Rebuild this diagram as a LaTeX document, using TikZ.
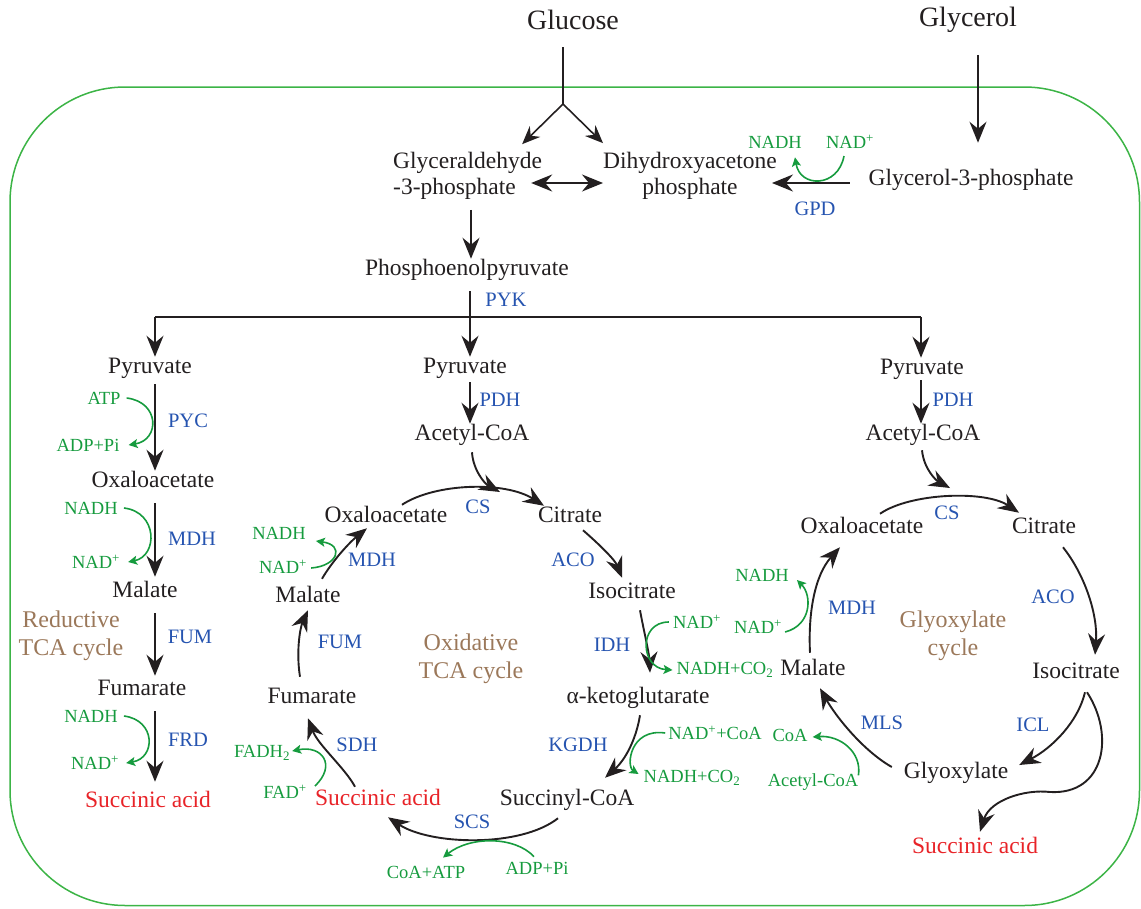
\documentclass[tikz,border=0pt]{standalone}
\usepackage{fontspec}
\setmainfont{Liberation Serif}
\usetikzlibrary{arrows.meta}
\definecolor{ink}{RGB}{35,31,32}
\definecolor{enz}{RGB}{38,84,176}
\definecolor{cof}{RGB}{22,155,62}
\definecolor{prod}{RGB}{232,35,40}
\definecolor{cyc}{RGB}{155,120,90}
\definecolor{cellc}{RGB}{60,180,70}
\begin{document}
\begin{tikzpicture}[x=1pt,y=-1pt,
 metab/.style={font=\fontsize{23.5}{26}\selectfont, text=ink, inner sep=0pt, outer sep=1pt, text height=15.5pt, text depth=5pt},
 metabtwo/.style={font=\fontsize{23.5}{26}\selectfont, text=ink, inner sep=0pt, align=center},
 toplab/.style={font=\fontsize{28}{30}\selectfont, text=ink, inner sep=0pt},
 prodlab/.style={metab, text=prod},
 enzlab/.style={font=\fontsize{20.5}{24}\selectfont, text=enz, inner sep=0pt},
 coflab/.style={font=\fontsize{18.5}{21}\selectfont, text=cof, inner sep=0pt},
 cyclab/.style={font=\fontsize{24}{28}\selectfont, text=cyc, inner sep=0pt, align=center},
 arr/.style={draw=ink, line width=1.9pt, -{Stealth[length=21pt,width=17pt,inset=7pt]}},
 arrsm/.style={draw=ink, line width=1.6pt, -{Stealth[length=18pt,width=15pt,inset=6pt]}},
 darr/.style={draw=ink, line width=1.9pt, {Stealth[length=21pt,width=17pt,inset=7pt]}-{Stealth[length=21pt,width=17pt,inset=7pt]}},
 garr/.style={draw=cof, line width=1.6pt, -{Stealth[length=9pt,width=9pt,inset=2pt]}},
 blackline/.style={draw=ink, line width=1.8pt},
]
\useasboundingbox (0,0) rectangle (1141,908);
% cell border
\draw[cellc, line width=1.5pt, rounded corners=115pt] (10,87) rectangle (1139.5,905.5);

% ---------- top ----------
\node[toplab] (glc) at (573,20) {Glucose};
\node[toplab] (gly) at (968,20) {Glycerol};
\coordinate (gj) at (563,104);
\coordinate (xG) at (978,0);
\coordinate (xA) at (471,0);
\node[metabtwo, align=left, anchor=west] (g3p) at (393,176) {Glyceraldehyde\\-3-phosphate};
\node[metabtwo] (dhap) at (690,176) {Dihydroxyacetone\\phosphate};
\node[metab] (g3pp) at (971,180) {Glycerol-3-phosphate};
\node[enzlab] (gpd) at (815,209) {GPD};
\node[coflab] (nadhG) at (775,142) {NADH};
\node[coflab] (nadG) at (850,142) {NAD\textsuperscript{+}};
\node[metab] (pep) at (467,270) {Phosphoenolpyruvate};
\node[enzlab] (pyk) at (506,300) {PYK};
\coordinate (barL) at (155,317);
\coordinate (barM) at (470,317);
\coordinate (barR) at (921,317);

\draw[blackline, line width=1.3pt, shorten <=17pt] (glc.south -| gj) -- (gj);
\draw[arrsm] (gj) -- ([shift={(-20,-8)}]g3p.north east);
\draw[arrsm] (gj) -- ([shift={(0,-9)}]dhap.north west);
\draw[darr] ([shift={(-11,7)}]g3p.east) -- ([shift={(0,7)}]dhap.west);
\draw[arr, shorten <=22pt] (gly.south -| xG) -- ([shift={(7,-26)}]g3pp.north);
\draw[arr] ([shift={(-18,3)}]g3pp.west) -- ([shift={(-5,7)}]dhap.east);
\draw[garr] ([shift={(-6,7)}]nadG.south) .. controls (838,188) and (800,188) .. ([shift={(20,9)}]nadhG.south);
\draw[arr, shorten <=10pt] (g3p.south -| xA) -- (pep.north -| xA);
\draw[blackline, shorten <=10pt] (pep.south -| barM) -- (barM);
\draw[blackline] (barL) -- (barR);

% ---------- left: reductive ----------
\node[metab] (pyrL) at (150,368) {Pyruvate};
\node[enzlab] (pycL) at (188,421) {PYC};
\node[coflab] (atpL) at (104,398) {ATP};
\node[coflab] (adpL) at (88,445) {ADP+Pi};
\node[metab] (oaaL) at (153,482) {Oxaloacetate};
\node[enzlab] (mdhL) at (192,539) {MDH};
\node[coflab] (nadhL1) at (91,508) {NADH};
\node[coflab] (nadL1) at (96,562) {NAD\textsuperscript{+}};
\node[metab] (malL) at (145,592) {Malate};
\node[cyclab] (redL) at (71,636) {Reductive\\TCA cycle};
\node[enzlab] (fumL) at (190,637) {FUM};
\node[metab] (fumaL) at (142,690) {Fumarate};
\node[enzlab] (frdL) at (188,740) {FRD};
\node[coflab] (nadhL2) at (91,716) {NADH};
\node[coflab] (nadL2) at (95,763) {NAD\textsuperscript{+}};
\node[prodlab] (sucL) at (148,802) {Succinic acid};

\draw[arr] (barL) -- (pyrL.north -| barL);
\draw[arr, shorten <=5pt] (pyrL.south -| barL) -- (oaaL.north -| barL);
\draw[arr, shorten <=10pt, shorten >=4pt] (oaaL.south -| barL) -- (malL.north -| barL);
\draw[arr, shorten <=10pt, shorten >=3pt] (malL.south -| barL) -- (fumaL.north -| barL);
\draw[arr, shorten <=10pt, shorten >=9pt] (fumaL.south -| barL) -- (sucL.north -| barL);
\draw[garr] ([xshift=6pt]atpL.east) .. controls (160,402) and (160,440) .. ([xshift=9pt]adpL.east);
\draw[garr] ([xshift=6pt]nadhL1.east) .. controls (158,512) and (158,556) .. ([xshift=8pt]nadL1.east);
\draw[garr] ([xshift=6pt]nadhL2.east) .. controls (156,720) and (156,758) .. ([xshift=7pt]nadL2.east);

% ---------- middle: oxidative ----------
\node[metab] (pyrM) at (465,368) {Pyruvate};
\node[enzlab] (pdhM) at (500,400) {PDH};
\node[metab] (acoaM) at (472,435) {Acetyl-CoA};
\node[metab] (oaaM) at (386,517) {Oxaloacetate};
\node[enzlab] (csM) at (478,507) {CS};
\node[metab] (citM) at (570,517) {Citrate};
\node[enzlab] (acoM) at (573,560) {ACO};
\node[metab] (isoM) at (632,593) {Isocitrate};
\node[enzlab] (idhM) at (612,645) {IDH};
\node[coflab] (nadI) at (697,622) {NAD\textsuperscript{+}};
\node[coflab] (nadhI) at (725,670) {NADH+CO\textsubscript{2}};
\node[metab] (akgM) at (638,698) {α-ketoglutarate};
\node[enzlab] (kgdhM) at (578,745) {KGDH};
\node[coflab] (nadcoaK) at (715,733) {NAD\textsuperscript{+}+CoA};
\node[coflab] (nadhK) at (692,778) {NADH+CO\textsubscript{2}};
\node[metab] (sucoaM) at (567,800) {Succinyl-CoA};
\node[enzlab] (scsM) at (472,822) {SCS};
\node[coflab] (adpS) at (537,868) {ADP+Pi};
\node[coflab] (coaatpS) at (426,872) {CoA+ATP};
\node[prodlab] (sucM) at (378,800) {Succinic acid};
\node[enzlab] (sdhM) at (357,745) {SDH};
\node[coflab] (fadS) at (285,792) {FAD\textsuperscript{+}};
\node[coflab] (fadhS) at (262,753) {FADH\textsubscript{2}};
\node[metab] (fumM) at (312,698) {Fumarate};
\node[enzlab] (fumE) at (340,642) {FUM};
\node[metab] (malM) at (308,597) {Malate};
\node[enzlab] (mdhM) at (372,560) {MDH};
\node[coflab] (nadM) at (283,567) {NAD\textsuperscript{+}};
\node[coflab] (nadhM) at (279,533) {NADH};
\node[cyclab] (oxM) at (471,659) {Oxidative\\TCA cycle};

\draw[arr] (barM) -- (pyrM.north -| barM);
\draw[arr, shorten <=3pt] (pyrM.south -| barM) -- (acoaM.north -| barM);
\draw[arr] ([shift={(0,6)}]acoaM.south) .. controls (473,470) and (485,484) .. ([shift={(22,-15)}]csM.center);
\draw[arr] ([shift={(16,-1)}]oaaM.north) .. controls (435,483) and (505,481) .. ([shift={(7,0)}]citM.north west);
\draw[arr] ([shift={(13,2)}]citM.south) .. controls (600,545) and (615,560) .. ([shift={(-10,-4)}]isoM.north);
\draw[arr] ([shift={(8,6)}]isoM.south) .. controls (644,632) and (649,652) .. ([shift={(12,-14)}]akgM.north);
\draw[garr] ([xshift=-4pt]nadI.west) .. controls (638,622) and (640,668) .. ([xshift=-4pt]nadhI.west);
\draw[arr] ([shift={(2,6)}]akgM.south) .. controls (636,740) and (625,760) .. ([shift={(38,-11)}]sucoaM.north);
\draw[garr] ([xshift=-3pt]nadcoaK.west) .. controls (630,728) and (626,766) .. ([shift={(-5,-4)}]nadhK.west);
\draw[arr] ([shift={(-9,7)}]sucoaM.south) .. controls (520,848) and (430,845) .. ([shift={(10,6)}]sucM.south);
\draw[garr] ([shift={(-3,-5)}]adpS.north) .. controls (515,836) and (470,836) .. ([shift={(17,-8)}]coaatpS.north);
\draw[arr] ([shift={(-23,-2)}]sucM.north) .. controls (345,768) and (318,745) .. ([shift={(-4,9)}]fumM.south);
\draw[garr] ([shift={(8,-6)}]fadS.east) .. controls (337,765) and (322,745) .. ([shift={(2,-2)}]fadhS.east);
\draw[arr] ([shift={(-12,-10)}]fumM.north) .. controls (296,652) and (300,628) .. ([shift={(0,2)}]malM.south);
\draw[arr] ([shift={(14,-7)}]malM.north) .. controls (333,560) and (350,542) .. ([shift={(-19,0)}]oaaM.south);
\draw[garr] ([shift={(4,1)}]nadM.east) .. controls (338,566) and (345,545) .. ([shift={(10,8)}]nadhM.east);

% ---------- right: glyoxylate ----------
\node[metab] (pyrR) at (922,369) {Pyruvate};
\node[enzlab] (pdhR) at (953,400) {PDH};
\node[metab] (acoaR) at (923,435) {Acetyl-CoA};
\node[metab] (oaaR) at (862,528) {Oxaloacetate};
\node[enzlab] (csR) at (947,513) {CS};
\node[metab] (citR) at (1044,528) {Citrate};
\node[enzlab] (acoR) at (1053,597) {ACO};
\node[metab] (isoR) at (1076,673) {Isocitrate};
\node[enzlab] (iclR) at (1033,725) {ICL};
\node[metab] (glxR) at (956,773) {Glyoxylate};
\node[prodlab] (sucR) at (975,848) {Succinic acid};
\node[enzlab] (mlsR) at (882,723) {MLS};
\node[coflab] (coaG) at (790,735) {CoA};
\node[coflab] (acoaG) at (813,782) {Acetyl-CoA};
\node[metab] (malR) at (813,670) {Malate};
\node[enzlab] (mdhR) at (852,608) {MDH};
\node[coflab] (nadR) at (758,627) {NAD\textsuperscript{+}};
\node[coflab] (nadhR) at (762,575) {NADH};
\node[cyclab] (glyC) at (953,636) {Glyoxylate\\cycle};
\coordinate (wv) at (1050,792);

\draw[arr] (barR) -- (pyrR.north -| barR);
\draw[arr] (pyrR.south -| barR) -- (acoaR.north -| barR);
\draw[arr] ([shift={(-1,4)}]acoaR.south) .. controls (924,470) and (937,481) .. ([shift={(3,-25)}]csR.center);
\draw[arr] ([shift={(18,-3)}]oaaR.north) .. controls (910,493) and (985,490) .. ([shift={(8,-4)}]citR.north west);
\draw[arr] ([shift={(19,8)}]citR.south) .. controls (1085,575) and (1098,615) .. ([shift={(19,-7)}]isoR.north);
\draw[arr] ([shift={(9,8)}]isoR.south) .. controls (1078,722) and (1052,748) .. ([shift={(10,-8)}]glxR.east);
\draw[arr] ([shift={(11,8)}]isoR.south) .. controls (1115,735) and (1105,795) .. (wv) .. controls (1025,789) and (990,800) .. ([shift={(5,-5)}]sucR.north);
\draw[arr] ([shift={(-11,-6)}]glxR.west) .. controls (862,750) and (835,715) .. ([shift={(7,7)}]malR.south);
\draw[garr] ([shift={(0,2)}]acoaG.north east) .. controls (862,752) and (840,735) .. ([shift={(5,2)}]coaG.east);
\draw[arr] ([shift={(-3,-6)}]malR.north) .. controls (808,612) and (815,575) .. ([shift={(-22,8)}]oaaR.south);
\draw[garr] ([shift={(3,5)}]nadR.east) .. controls (812,625) and (812,595) .. ([shift={(8,5)}]nadhR.east);
\end{tikzpicture}
\end{document}
